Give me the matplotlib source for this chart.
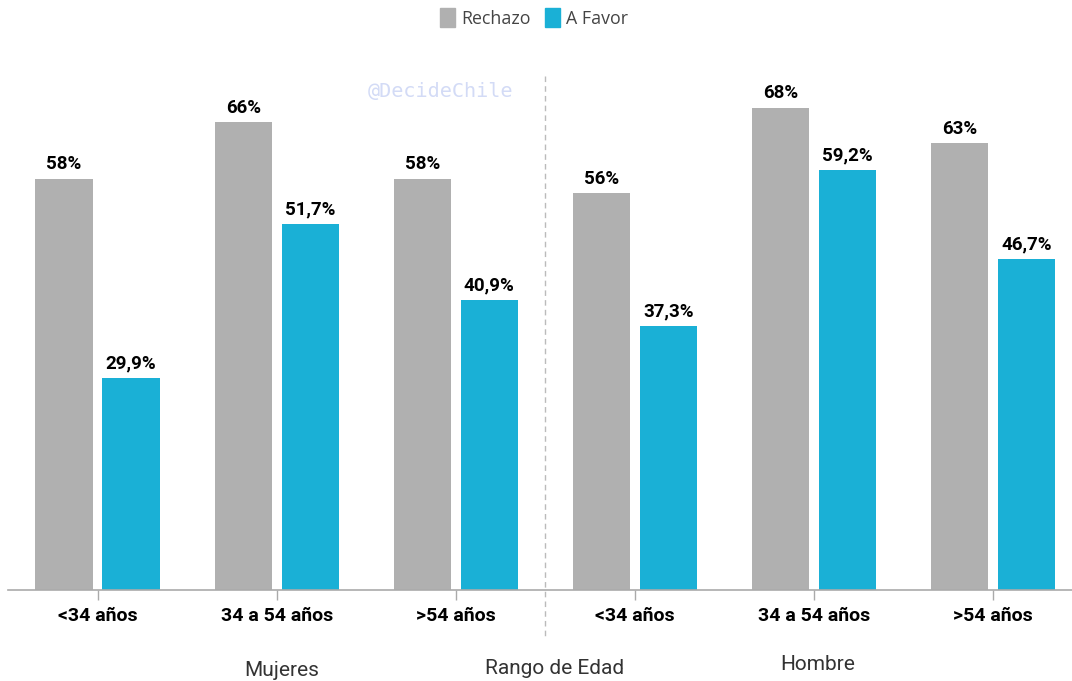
import matplotlib.pyplot as plt
import numpy as np

# Datos
categorias = ['<34 años', '34 a 54 años', '>54 años', '<34 años', '34 a 54 años', '>54 años']
rechazo = [58, 66, 58, 56, 68, 63]
a_favor = [29.9, 51.7, 40.9, 37.3, 59.2, 46.7]
etiquetas_rechazo = ['58%', '66%', '58%', '56%', '68%', '63%']
etiquetas_favor = ['29,9%', '51,7%', '40,9%', '37,3%', '59,2%', '46,7%']

color_rechazo = '#b0b0b0'
color_favor = '#1ab0d6'

fig = plt.figure(figsize=(10.72, 6.81), dpi=100)
ax = fig.add_axes([8 / 1072, 91 / 681, 1064 / 1072, 550 / 681])

x = np.arange(len(categorias))
ancho = 0.32
desp = 0.187

ax.bar(x - desp, rechazo, width=ancho, color=color_rechazo, zorder=2)
ax.bar(x + desp, a_favor, width=ancho, color=color_favor, zorder=2)

for xi, v, t in zip(x, rechazo, etiquetas_rechazo):
    ax.annotate(t, (xi - desp, v), xytext=(0, 4), textcoords='offset points',
                ha='center', va='bottom', fontsize=13.5, fontweight='bold',
                family='Roboto', color='black')
for xi, v, t in zip(x, a_favor, etiquetas_favor):
    ax.annotate(t, (xi + desp, v), xytext=(0, 4), textcoords='offset points',
                ha='center', va='bottom', fontsize=13.5, fontweight='bold',
                family='Roboto', color='black')

ax.set_xlim(-0.5, 5.44)
ax.set_ylim(0, 77.6)
ax.set_xticks(x)
ax.set_xticklabels(categorias, fontsize=14, fontweight='bold', family='Roboto')
ax.tick_params(axis='x', length=7, width=1, color='#aaaaaa', pad=5)
ax.set_yticks([])
for s in ['top', 'right', 'left']:
    ax.spines[s].set_visible(False)
ax.spines['bottom'].set_color('#aaaaaa')
ax.spines['bottom'].set_linewidth(1.2)

# Línea divisoria
trans = ax.get_xaxis_transform()
ax.plot([2.5, 2.5], [0.934, -0.087], transform=trans, color='#bbbbbb',
        linestyle=(0, (4, 3)), linewidth=1, clip_on=False, zorder=1)

# Títulos de grupo
fig.text(282 / 1072, 1 - 670 / 681, 'Mujeres', ha='center', va='center',
         fontsize=15, color='#333333', family='Roboto')
fig.text(555 / 1072, 1 - 668 / 681, 'Rango de Edad', ha='center', va='center',
         fontsize=15, color='#333333', family='Roboto')
fig.text(818 / 1072, 1 - 665 / 681, 'Hombre', ha='center', va='center',
         fontsize=15, color='#333333', family='Roboto')

# Marca de agua
fig.text(441 / 1072, 1 - 92 / 681, '@DecideChile', ha='center', va='center',
         fontsize=14.5, color='#d3dbf6', family='DejaVu Sans Mono')

# Leyenda
h1 = plt.Rectangle((0, 0), 1, 1, color=color_rechazo)
h2 = plt.Rectangle((0, 0), 1, 1, color=color_favor)
fig.legend([h1, h2], ['Rechazo', 'A Favor'], loc='center',
           bbox_to_anchor=(534 / 1072, 1 - 18 / 681), ncol=2, frameon=False,
           handlelength=0.85, handleheight=1.2, handletextpad=0.35, columnspacing=0.8,
           prop={'family': 'Open Sans', 'size': 12.8}, labelcolor='#444444')

fig.savefig('out.png', dpi=100)
